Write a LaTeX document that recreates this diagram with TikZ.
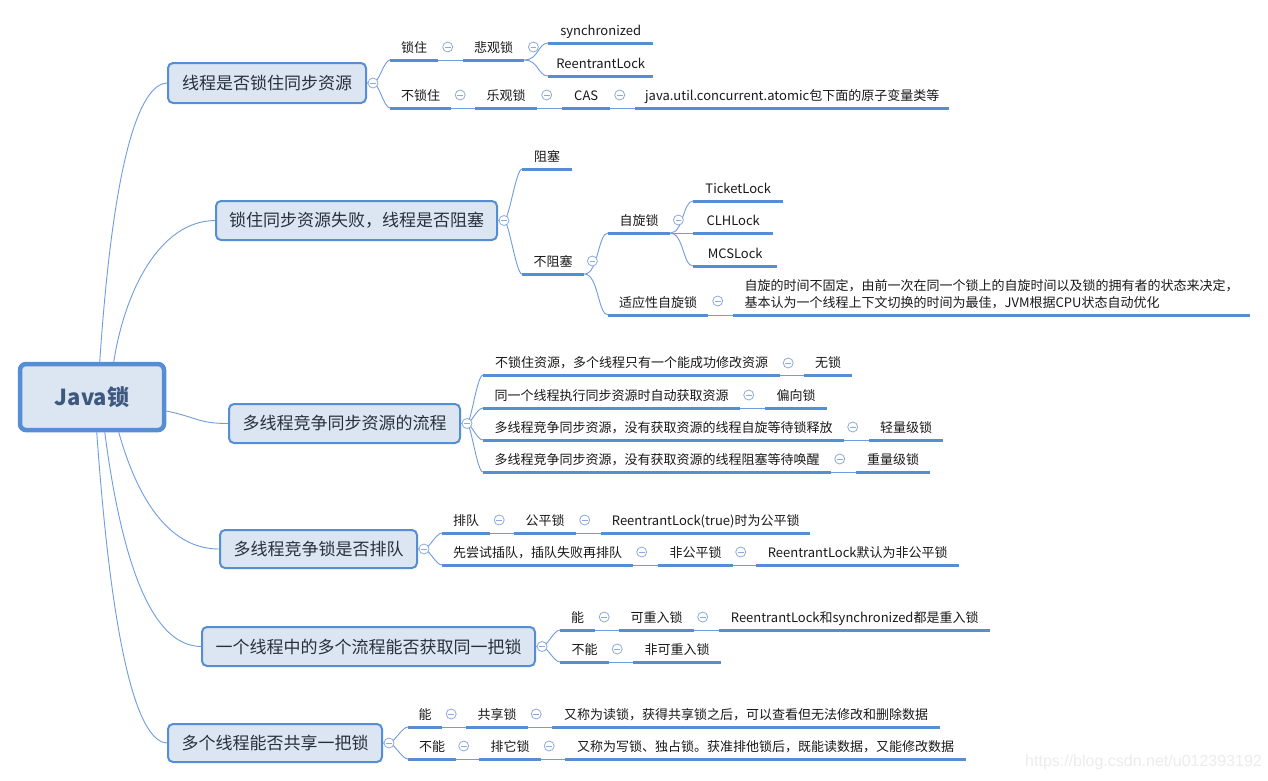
\documentclass[tikz,border=0pt]{standalone}
\usepackage{fontspec}
\setmainfont{Noto Sans CJK SC}
\newfontfamily\wmfont{Liberation Sans}
\usetikzlibrary{calc}
\definecolor{bord}{RGB}{85,142,213}
\definecolor{boxfill}{RGB}{220,230,242}
\definecolor{conncol}{RGB}{110,157,222}
\definecolor{collc}{RGB}{140,170,220}
\definecolor{roottext}{RGB}{62,88,128}
\definecolor{topictext}{RGB}{40,48,60}
\definecolor{wmcol}{RGB}{236,236,236}
\tikzset{
  rootbox/.style={draw=bord, fill=boxfill, line width=4.5pt, rounded corners=6pt,
    minimum width=144pt, minimum height=66pt, inner sep=0pt,
    font=\fontsize{22}{26}\selectfont\bfseries, text=roottext},
  topicbox/.style={draw=bord, fill=boxfill, line width=2pt, rounded corners=5pt,
    minimum height=#1, inner sep=0pt, font=\fontsize{17}{20}\selectfont, text=topictext},
  uline/.style={draw=bord, line width=3pt},
  leaf/.style={anchor=south west, inner xsep=0pt, inner ysep=5pt, text height=10pt,
    text depth=2.5pt, font=\fontsize{13}{17}\selectfont, text=black!90, minimum width=#1,
    append after command={(\tikzlastnode.south west) edge[uline] (\tikzlastnode.south east)}},
  cn/.style={draw=conncol, line width=0.9pt},
  coll/.style={circle, draw=collc, fill=white, line width=0.8pt, minimum size=10pt, inner sep=0pt,
    path picture={\draw[collc, line width=0.8pt]
      ([xshift=-2.8pt]path picture bounding box.center) -- ([xshift=2.8pt]path picture bounding box.center);}},
}
\begin{document}
\begin{tikzpicture}[x=1pt, y=-1pt]
\useasboundingbox[fill=white] (0,0) rectangle (1268,780);

% root and topics
\node[rootbox] (root) at (92,397) {Java锁};
\node[topicbox=40pt, minimum width=198pt] (b1) at (267,83) {线程是否锁住同步资源};
\node[topicbox=39pt, minimum width=281pt] (b2) at (356.5,220.5) {锁住同步资源失败，线程是否阻塞};
\node[topicbox=39pt, minimum width=231pt] (b3) at (344.5,423.5) {多线程竞争同步资源的流程};
\node[topicbox=38pt, minimum width=197pt] (b4) at (318.5,549) {多线程竞争锁是否排队};
\node[topicbox=39pt, minimum width=333pt] (b5) at (368.5,646.5) {一个线程中的多个流程能否获取同一把锁};
\node[topicbox=38pt, minimum width=214pt] (b6) at (275,743) {多个线程能否共享一把锁};

% root connectors
\draw[cn] ($(root.north west)+(82,0)$) .. controls (116,120) and (148,84) .. (b1.west);
\draw[cn] ($(root.north west)+(96,0)$) .. controls (125,290) and (160,221) .. (b2.west);
\draw[cn] ($(root.east)+(0,14)$) .. controls +(30,6) and +(-30,0) .. (b3.west);
\draw[cn] ($(root.south west)+(101,0)$) .. controls (142,515) and (178,549) .. (b4.west);
\draw[cn] ($(root.south west)+(87,0)$) .. controls (128,610) and (168,646) .. (b5.west);
\draw[cn] ($(root.south west)+(79,0)$) .. controls (115,690) and (145,742) .. (b6.west);

% ---------- branch 1
\node[leaf=48pt] (L11) at (390,60) {锁住};
\node[leaf=61pt] (L12) at (463,60) {悲观锁};
\node[leaf=105pt] (L13) at (548,43) {synchronized};
\node[leaf=105pt] (L14) at (548,76) {ReentrantLock};
\node[leaf=61pt] (L15) at (390,108) {不锁住};
\node[leaf=62pt] (L16) at (475,108) {乐观锁};
\node[leaf=48pt] (L17) at (562,108) {CAS};
\node[leaf=314pt] (L18) at (635,108) {java.util.concurrent.atomic包下面的原子变量类等};
\draw[cn] (b1.east) -- ++(6,0) .. controls +(6,0) and +(-6,0) .. (L11.south west);
\draw[cn] (b1.east) -- ++(6,0) .. controls +(6,0) and +(-6,0) .. (L15.south west);
\draw[cn] (L11.south east) -- (L12.south west);
\draw[cn] (L12.south east) .. controls +(14,0) and +(-10,0) .. (L13.south west);
\draw[cn] (L12.south east) .. controls +(14,0) and +(-10,0) .. (L14.south west);
\draw[cn] (L15.south east) -- (L16.south west);
\draw[cn] (L16.south east) -- (L17.south west);
\draw[cn] (L17.south east) -- (L18.south west);
\node[coll] (c1) at ($(b1.east)+(6,0)$) {};
\node[coll] (c11) at ($(L11.south east)!.5!(L12.south west)+(-3,-13)$) {};
\node[coll] (c12) at ($(L12.south east)+(9,-13)$) {};
\node[coll] (c15) at ($(L15.south east)!.5!(L16.south west)+(-3,-13)$) {};
\node[coll] (c16) at ($(L16.south east)!.5!(L17.south west)+(-3,-13)$) {};
\node[coll] (c17) at ($(L17.south east)!.5!(L18.south west)+(-3,-13)$) {};

% ---------- branch 2
\node[leaf=50pt] (L21) at (522,169) {阻塞};
\node[leaf=62pt] (L22) at (522,274) {不阻塞};
\node[leaf=62pt] (L23) at (608,233) {自旋锁};
\node[leaf=90pt] (L24) at (693,201) {TicketLock};
\node[leaf=80pt] (L25) at (693,233) {CLHLock};
\node[leaf=84pt] (L26) at (693,266) {MCSLock};
\node[leaf=100pt] (L27) at (608,315) {适应性自旋锁};
\node[leaf=517pt, text height=, text depth=, inner ysep=6pt, align=left] (L28) at (733,315)
  {自旋的时间不固定，由前一次在同一个锁上的自旋时间以及锁的拥有者的状态来决定，\\基本认为一个线程上下文切换的时间为最佳，JVM根据CPU状态自动优化};
\draw[cn] (b2.east) -- ++(6,0) .. controls +(5,0) and +(-6,0) .. (L21.south west);
\draw[cn] (b2.east) -- ++(6,0) .. controls +(5,0) and +(-6,0) .. (L22.south west);
\draw[cn] (L22.south east) .. controls +(14,0) and +(-10,0) .. (L23.south west);
\draw[cn] (L22.south east) .. controls +(14,0) and +(-10,0) .. (L27.south west);
\draw[cn] (L23.south east) .. controls +(13,0) and +(-10,0) .. (L24.south west);
\draw[cn] (L23.south east) -- (L25.south west);
\draw[cn] (L23.south east) .. controls +(13,0) and +(-10,0) .. (L26.south west);
\draw[cn] (L27.south east) -- (L28.south west);
\node[coll] (c2) at ($(b2.east)+(6,0)$) {};
\node[coll] (c22) at ($(L22.south east)+(8,-13)$) {};
\node[coll] (c23) at ($(L23.south east)+(8,-13)$) {};
\node[coll] (c27) at ($(L27.south east)!.5!(L28.south west)+(-3,-14)$) {};

% ---------- branch 3
\node[leaf=297pt] (L31) at (483,375) {不锁住资源，多个线程只有一个能成功修改资源};
\node[leaf=48pt] (L32) at (804,375) {无锁};
\node[leaf=257pt] (L33) at (483,408) {同一个线程执行同步资源时自动获取资源};
\node[leaf=62pt] (L34) at (765,408) {偏向锁};
\node[leaf=361pt] (L35) at (483,440) {多线程竞争同步资源，没有获取资源的线程自旋等待锁释放};
\node[leaf=74pt] (L36) at (869,440) {轻量级锁};
\node[leaf=348pt] (L37) at (483,472) {多线程竞争同步资源，没有获取资源的线程阻塞等待唤醒};
\node[leaf=74pt] (L38) at (856,472) {重量级锁};
\foreach \n in {L31,L33,L35,L37}
  \draw[cn] (b3.east) -- ++(6,0) .. controls +(4,0) and +(-6,0) .. (\n.south west);
\draw[cn] (L31.south east) -- (L32.south west);
\draw[cn] (L33.south east) -- (L34.south west);
\draw[cn] (L35.south east) -- (L36.south west);
\draw[cn] (L37.south east) -- (L38.south west);
\node[coll] (c3) at ($(b3.east)+(6,0)$) {};
\node[coll] (c31) at ($(L31.south east)!.5!(L32.south west)+(-4,-12)$) {};
\node[coll] (c33) at ($(L33.south east)!.5!(L34.south west)+(-4,-13)$) {};
\node[coll] (c35) at ($(L35.south east)!.5!(L36.south west)+(-4,-13)$) {};
\node[coll] (c37) at ($(L37.south east)!.5!(L38.south west)+(-4,-13)$) {};

% ---------- branch 4
\node[leaf=48pt] (L41) at (442,533) {排队};
\node[leaf=62pt] (L42) at (514,533) {公平锁};
\node[leaf=209pt] (L43) at (601,533) {ReentrantLock(true)时为公平锁};
\node[leaf=191pt] (L44) at (442,565) {先尝试插队，插队失败再排队};
\node[leaf=75pt] (L45) at (658,565) {非公平锁};
\node[leaf=203pt] (L46) at (756,565) {ReentrantLock默认为非公平锁};
\draw[cn] (b4.east) -- ++(6,0) .. controls +(5,0) and +(-6,0) .. (L41.south west);
\draw[cn] (b4.east) -- ++(6,0) .. controls +(5,0) and +(-6,0) .. (L44.south west);
\draw[cn] (L41.south east) -- (L42.south west);
\draw[cn] (L42.south east) -- (L43.south west);
\draw[cn] (L44.south east) -- (L45.south west);
\draw[cn] (L45.south east) -- (L46.south west);
\node[coll] (c4) at ($(b4.east)+(6,0)$) {};
\node[coll] (c41) at ($(L41.south east)!.5!(L42.south west)+(-3,-13)$) {};
\node[coll] (c42) at ($(L42.south east)!.5!(L43.south west)+(-4,-13)$) {};
\node[coll] (c44) at ($(L44.south east)!.5!(L45.south west)+(-4,-13)$) {};
\node[coll] (c45) at ($(L45.south east)!.5!(L46.south west)+(-4,-13)$) {};

% ---------- branch 5
\node[leaf=35pt] (L51) at (560,630) {能};
\node[leaf=75pt] (L52) at (619,630) {可重入锁};
\node[leaf=271pt] (L53) at (719,630) {ReentrantLock和synchronized都是重入锁};
\node[leaf=49pt] (L54) at (560,662) {不能};
\node[leaf=88pt] (L55) at (633,662) {非可重入锁};
\draw[cn] (b5.east) -- ++(6,0) .. controls +(5,0) and +(-6,0) .. (L51.south west);
\draw[cn] (b5.east) -- ++(6,0) .. controls +(5,0) and +(-6,0) .. (L54.south west);
\draw[cn] (L51.south east) -- (L52.south west);
\draw[cn] (L52.south east) -- (L53.south west);
\draw[cn] (L54.south east) -- (L55.south west);
\node[coll] (c5) at ($(b5.east)+(6,0)$) {};
\node[coll] (c51) at ($(L51.south east)!.5!(L52.south west)+(-3,-13)$) {};
\node[coll] (c52) at ($(L52.south east)!.5!(L53.south west)+(-4,-13)$) {};
\node[coll] (c54) at ($(L54.south east)!.5!(L55.south west)+(-4,-13)$) {};

% ---------- branch 6
\node[leaf=34pt] (L61) at (408,727) {能};
\node[leaf=62pt] (L62) at (466,727) {共享锁};
\node[leaf=388pt] (L63) at (552,727) {又称为读锁，获得共享锁之后，可以查看但无法修改和删除数据};
\node[leaf=48pt] (L64) at (408,759) {不能};
\node[leaf=62pt] (L65) at (479,759) {排它锁};
\node[leaf=401pt] (L66) at (565,759) {又称为写锁、独占锁。获准排他锁后，既能读数据，又能修改数据};
\draw[cn] (b6.east) -- ++(6,0) .. controls +(5,0) and +(-6,0) .. (L61.south west);
\draw[cn] (b6.east) -- ++(6,0) .. controls +(5,0) and +(-6,0) .. (L64.south west);
\draw[cn] (L61.south east) -- (L62.south west);
\draw[cn] (L62.south east) -- (L63.south west);
\draw[cn] (L64.south east) -- (L65.south west);
\draw[cn] (L65.south east) -- (L66.south west);
\node[coll] (c6) at ($(b6.east)+(6,0)$) {};
\node[coll] (c61) at ($(L61.south east)!.5!(L62.south west)+(-3,-13)$) {};
\node[coll] (c62) at ($(L62.south east)!.5!(L63.south west)+(-4,-13)$) {};
\node[coll] (c64) at ($(L64.south east)!.5!(L65.south west)+(-4,-13)$) {};
\node[coll] (c65) at ($(L65.south east)!.5!(L66.south west)+(-4,-13)$) {};

% watermark
\node[anchor=west, inner sep=0pt, font=\wmfont\fontsize{16}{18}\selectfont, text=wmcol] (wm) at (1025,762) {https://blog.csdn.net/u012393192};
\end{tikzpicture}
\end{document}
